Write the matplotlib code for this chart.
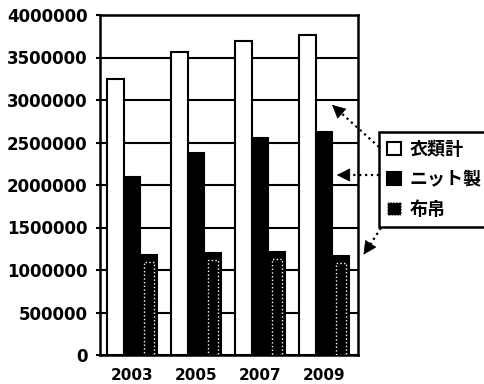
import numpy as np
import matplotlib as mpl; mpl.use('Agg')
import matplotlib.pyplot as plt
from matplotlib.patches import Patch, FancyArrowPatch
from matplotlib.lines import Line2D

plt.rcParams.update({'font.family': ['DejaVu Sans'], 'font.weight': 'bold'})

years = ['2003', '2005', '2007', '2009']
clothing_total = [3250000, 3570000, 3700000, 3760000]   # 衣類計
knit = [2100000, 2380000, 2550000, 2620000]              # ニット製
woven = [1180000, 1200000, 1210000, 1160000]             # 布帛
labels = ['衣類計', 'ニット製', '布帛']
yticks = np.arange(0, 4000001, 500000)

W, H = 485, 384
fig = plt.figure(figsize=(W / 100, H / 100), dpi=100)
ax = fig.add_axes([100 / W, 1 - 355 / H, 258 / W, 340 / H])

x = np.arange(len(years))
w = 0.26
ax.set_axisbelow(True)
ax.grid(axis='y', color='k', lw=1.5)
ax.bar(x - w, clothing_total, w, color='white', edgecolor='k', lw=1.5, zorder=3)
ax.bar(x, knit, w, color='black', edgecolor='k', lw=1.5, zorder=3)
ax.bar(x + w, woven, w, color='black', edgecolor='k', lw=1.5, zorder=3)
# dotted inner face of the woven bars
ax.bar(x + w, np.array(woven) * 0.93, w * 0.6, fill=False, edgecolor='white',
       lw=1.0, ls=':', zorder=4)

ax.set_xlim(-0.5, -0.5 + 258 / 64)
ax.set_ylim(0, 4000000)
ax.set_yticks(yticks)
ax.set_yticklabels([str(v) for v in yticks], fontsize=12, fontweight='bold')
ax.set_xticks(x)
ax.set_xticklabels(years, fontsize=11, fontweight='bold')
ax.tick_params(axis='y', length=3, width=1.5, pad=6)
ax.tick_params(axis='x', length=0, pad=9)
for s in ax.spines.values():
    s.set_linewidth(1.8)

handles = [Patch(facecolor='white', edgecolor='k', lw=1.5),
           Patch(facecolor='black', edgecolor='k', lw=1.5),
           Patch(facecolor='black', edgecolor='white', lw=0.8, ls=':')]
leg = fig.legend(handles, labels, loc='upper left', bbox_to_anchor=(379 / W, 1 - 132 / H),
                 prop={'family': ['Noto Sans CJK JP', 'DejaVu Sans'], 'weight': 'bold', 'size': 13},
                 frameon=True, fancybox=False, edgecolor='k', framealpha=1,
                 handlelength=0.75, handleheight=0.75, handletextpad=0.5,
                 labelspacing=0.6, borderpad=0.45, borderaxespad=0)
leg.get_frame().set_linewidth(1.8)

# dotted arrows from legend to bars (figure pixel coordinates, y from top)
arrows = [((379, 147), (330, 103)), ((379, 175), (334, 175)), ((381, 228), (362, 257))]
for (x0, y0), (x1, y1) in arrows:
    p0 = np.array([x0, H - y0], float); p1 = np.array([x1, H - y1], float)
    d = (p1 - p0) / np.hypot(*(p1 - p0))
    fig.add_artist(Line2D([p0[0] / W, (p1 - 12 * d)[0] / W], [p0[1] / H, (p1 - 12 * d)[1] / H],
                          transform=fig.transFigure, color='k', lw=1.6, ls=':'))
    fig.add_artist(FancyArrowPatch((p1 - 16 * d) / [W, H], p1 / [W, H], transform=fig.transFigure,
                                   arrowstyle='-|>', mutation_scale=22, color='k', lw=0.5))

fig.savefig('out.png', dpi=100)
